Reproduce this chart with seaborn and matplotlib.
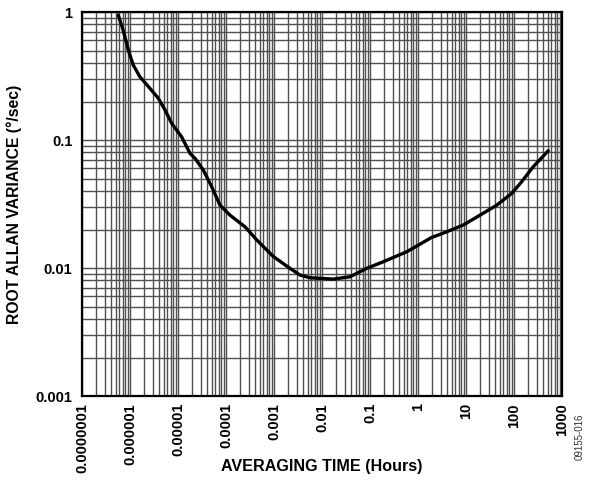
import numpy as np
import pandas as pd
import matplotlib
matplotlib.use("Agg")
import matplotlib.pyplot as plt
import seaborn as sns
from matplotlib.ticker import LogLocator, FixedLocator, NullFormatter

hours = [5.7e-7, 7.2e-7, 9.2e-7, 1.17e-6, 1.61e-6, 2.61e-6, 3.89e-6, 5.36e-6,
         7.39e-6, 1.19e-5, 1.78e-5, 2.26e-5, 3.37e-5, 5.03e-5, 7.5e-5, 1.21e-4,
         2.49e-4, 4.36e-4, 9.7e-4, 2.15e-3, 3.48e-3, 5.6e-3, 0.0172, 0.0383,
         0.0853, 0.189, 0.582, 1.9, 3.96, 8.8, 19.6, 43.6, 89.6, 144, 252, 519]
variance = [0.947, 0.723, 0.505, 0.385, 0.312, 0.253, 0.212, 0.172,
            0.135, 0.106, 0.0787, 0.072, 0.0583, 0.0432, 0.031, 0.0259,
            0.021, 0.0166, 0.0123, 0.00995, 0.00882, 0.0084, 0.0082, 0.00855,
            0.00995, 0.0112, 0.0134, 0.0173, 0.0192, 0.0217, 0.0259, 0.031,
            0.0383, 0.0472, 0.0619, 0.0826]

x_ticks = [1e-7, 1e-6, 1e-5, 1e-4, 1e-3, 1e-2, 1e-1, 1, 10, 100, 1000]
x_labels = ["0.0000001", "0.000001", "0.00001", "0.0001", "0.001", "0.01",
            "0.1", "1", "10", "100", "1000"]
y_ticks = [0.001, 0.01, 0.1, 1]
y_labels = ["0.001", "0.01", "0.1", "1"]

df = pd.DataFrame({"hours": hours, "variance": variance})

sns.set_style("white")
plt.rcParams['font.family'] = ['Liberation Sans', 'DejaVu Sans']
plt.rcParams['text.color'] = 'black'
plt.rcParams['axes.labelcolor'] = 'black'
plt.rcParams['xtick.color'] = 'black'
plt.rcParams['ytick.color'] = 'black'

fig = plt.figure(figsize=(5.93, 4.83), dpi=100)
ax = fig.add_axes([0.1383, 0.180, 0.8094, 0.795])

ax.set_xscale("log")
ax.set_yscale("log")

sns.lineplot(data=df, x="hours", y="variance", sort=False, estimator=None,
             color="black", linewidth=2.4, ax=ax, zorder=3)

ax.set_xlim(1e-7, 1000)
ax.set_ylim(0.001, 1)

ax.xaxis.set_major_locator(FixedLocator(x_ticks))
ax.yaxis.set_major_locator(FixedLocator(y_ticks))
ax.xaxis.set_minor_locator(LogLocator(base=10, subs=np.arange(2, 10), numticks=50))
ax.yaxis.set_minor_locator(LogLocator(base=10, subs=np.arange(2, 10), numticks=50))
ax.xaxis.set_minor_formatter(NullFormatter())
ax.yaxis.set_minor_formatter(NullFormatter())

ax.set_xticklabels(x_labels, rotation=90, fontsize=10.5, fontweight="bold")
ax.set_yticklabels(y_labels, fontsize=10.5, fontweight="bold")
ax.tick_params(which="both", length=0, labelcolor="black")
ax.tick_params(axis="x", pad=5)
ax.tick_params(axis="y", pad=7)

ax.grid(which="major", color="#505050", linewidth=1.0)
ax.grid(which="minor", color="#505050", linewidth=1.0)

for s in ax.spines.values():
    s.set_color("black")
    s.set_linewidth(1.6)
    s.set_visible(True)

ax.set_xlabel("")
ax.set_ylabel("ROOT ALLAN VARIANCE (°/sec)", fontsize=11.3, fontweight="bold",
              labelpad=10, color="black")
# x label sits beside the long rotated tick labels, as in the reference
fig.text(322 / 593, 1 - 466 / 483, "AVERAGING TIME (Hours)", fontsize=11.6,
         fontweight="bold", ha="center", va="center", color="black")

fig.text(0.978, 0.095, "09155-016", rotation=90, fontsize=7, color="#333333",
         ha="center", va="center")

fig.savefig("out.png", dpi=100)
